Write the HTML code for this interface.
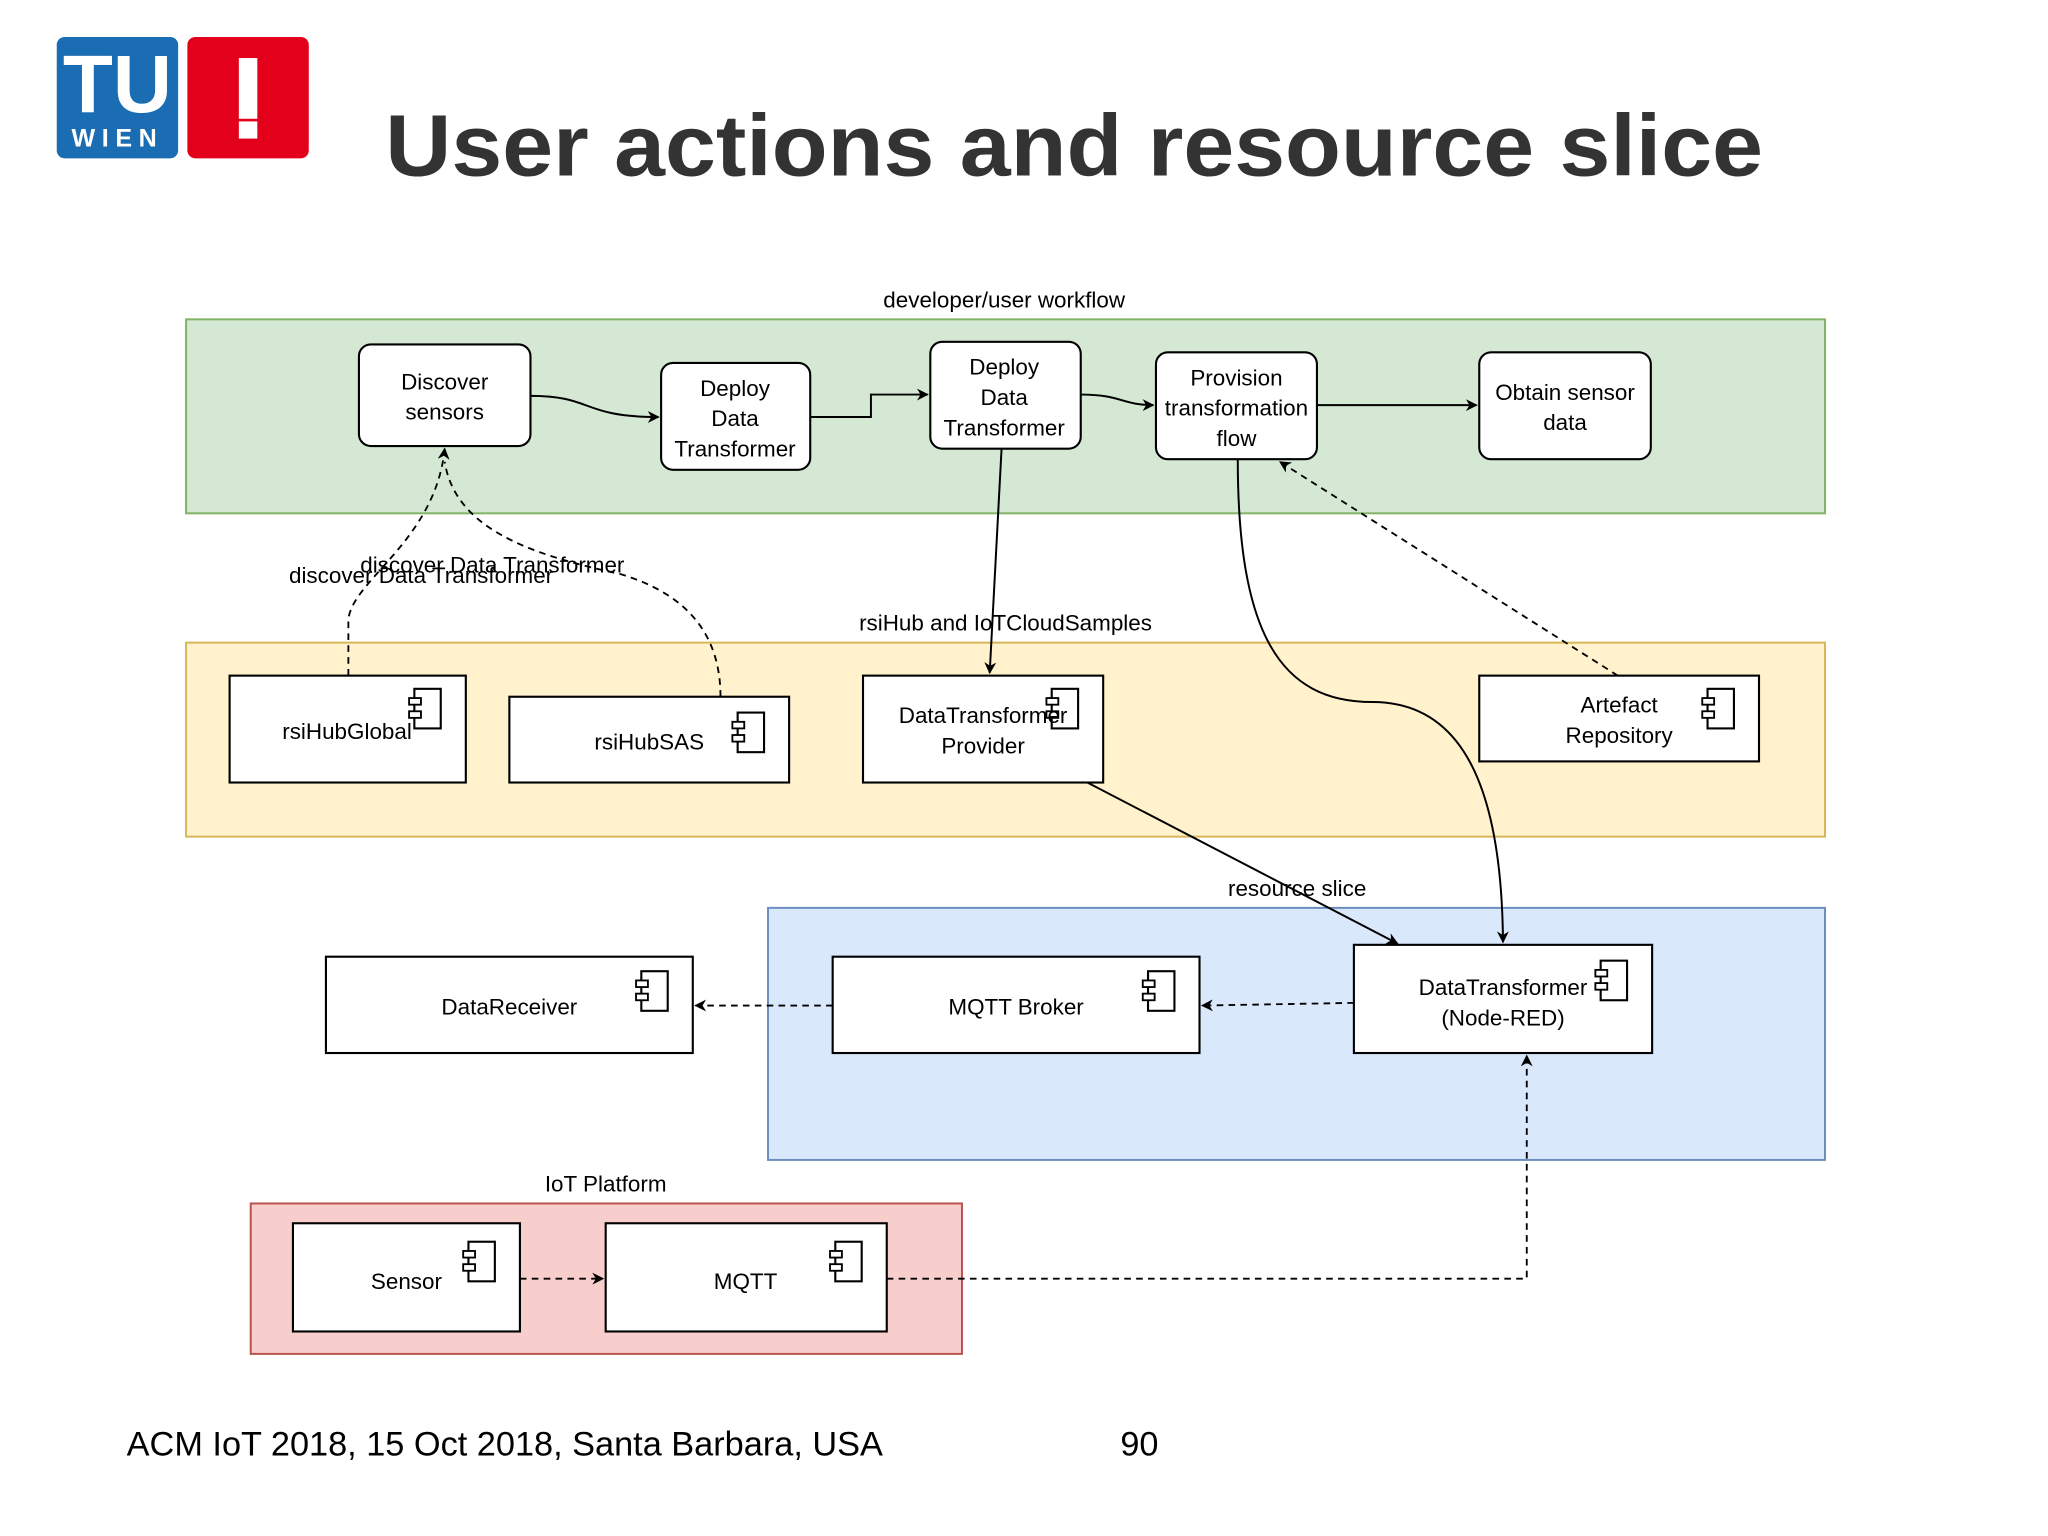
<!DOCTYPE html>
<html><head><meta charset="utf-8"><style>
html,body{margin:0;padding:0;background:#fff;}
svg{display:block;}
text{font-family:"Liberation Sans",Arial,sans-serif;}
</style></head><body>
<svg width="2048" height="1536" viewBox="0 0 1552 1164" preserveAspectRatio="none" xmlns="http://www.w3.org/2000/svg">
<defs>
<marker id="a" viewBox="0 0 10 10" refX="9" refY="5" markerWidth="9" markerHeight="9" orient="auto" markerUnits="userSpaceOnUse"><path d="M0,0 L10,5 L0,10 L3,5 z" fill="#000"/></marker>
<g id="ci"><rect x="4" y="0" width="20" height="30" fill="none" stroke="#000" stroke-width="1.6"/><rect x="0" y="7" width="9" height="5" fill="#fff" stroke="#000" stroke-width="1.4"/><rect x="0" y="17" width="9" height="5" fill="#fff" stroke="#000" stroke-width="1.4"/></g>
</defs>
<!-- logo -->
<rect x="43" y="28" width="92" height="92" rx="6" fill="#1a6db3"/>
<text x="89" y="85" font-size="62" font-weight="bold" fill="#fff" text-anchor="middle">TU</text>
<text x="89" y="111" font-size="19" font-weight="bold" fill="#fff" text-anchor="middle" letter-spacing="5">WIEN</text>
<rect x="142" y="28" width="92" height="92" rx="6" fill="#e3001b"/>
<rect x="181" y="44" width="14" height="46" fill="#fff"/>
<rect x="181" y="92" width="14" height="13" fill="#fff"/>
<text x="292" y="133" font-size="66" font-weight="bold" fill="#333" textLength="1044" lengthAdjust="spacingAndGlyphs">User actions and resource slice</text>

<!-- containers -->
<rect x="141" y="242" width="1242" height="147" fill="#d5e8d4" stroke="#82b366" stroke-width="1.5"/>
<text x="761" y="233" font-size="17" text-anchor="middle">developer/user workflow</text>
<rect x="141" y="487" width="1242" height="147" fill="#fff2cc" stroke="#d6b656" stroke-width="1.5"/>
<text x="762" y="478" font-size="17" text-anchor="middle">rsiHub and IoTCloudSamples</text>
<rect x="582" y="688" width="801" height="191" fill="#dae8fc" stroke="#6c8ebf" stroke-width="1.5"/>
<rect x="190" y="912" width="539" height="114" fill="#f8cecc" stroke="#b85450" stroke-width="1.5"/>
<text x="459" y="903" font-size="17" text-anchor="middle">IoT Platform</text>

<g fill="#fff" stroke="#000" stroke-width="1.6">
<rect x="272" y="261" width="130" height="77" rx="9"/>
<rect x="501" y="275" width="113" height="81" rx="9"/>
<rect x="705" y="259" width="114" height="81" rx="9"/>
<rect x="876" y="267" width="122" height="81" rx="9"/>
<rect x="1121" y="267" width="130" height="81" rx="9"/>
<rect x="174" y="512" width="179" height="81"/>
<rect x="386" y="528" width="212" height="65"/>
<rect x="654" y="512" width="182" height="81"/>
<rect x="1121" y="512" width="212" height="65"/>
<rect x="247" y="725" width="278" height="73"/>
<rect x="631" y="725" width="278" height="73"/>
<rect x="1026" y="716" width="226" height="82"/>
<rect x="222" y="927" width="172" height="82"/>
<rect x="459" y="927" width="213" height="82"/>
</g>
<use href="#ci" x="310" y="522"/>
<use href="#ci" x="555" y="540"/>
<use href="#ci" x="793" y="522"/>
<use href="#ci" x="1290" y="522"/>
<use href="#ci" x="482" y="736"/>
<use href="#ci" x="866" y="736"/>
<use href="#ci" x="1209" y="728"/>
<use href="#ci" x="351" y="941"/>
<use href="#ci" x="629" y="941"/>

<g font-size="17" text-anchor="middle">
<text x="337" y="295">Discover</text><text x="337" y="318">sensors</text>
<text x="557" y="300">Deploy</text><text x="557" y="323">Data</text><text x="557" y="346">Transformer</text>
<text x="761" y="284">Deploy</text><text x="761" y="307">Data</text><text x="761" y="330">Transformer</text>
<text x="937" y="292">Provision</text><text x="937" y="315">transformation</text><text x="937" y="338">flow</text>
<text x="1186" y="303">Obtain sensor</text><text x="1186" y="326">data</text>
<text x="263" y="560">rsiHubGlobal</text>
<text x="492" y="568">rsiHubSAS</text>
<text x="745" y="548">DataTransformer</text><text x="745" y="571">Provider</text>
<text x="1227" y="540">Artefact</text><text x="1227" y="563">Repository</text>
<text x="386" y="769">DataReceiver</text>
<text x="770" y="769">MQTT Broker</text>
<text x="1139" y="754">DataTransformer</text><text x="1139" y="777">(Node-RED)</text>
<text x="308" y="977">Sensor</text>
<text x="565" y="977">MQTT</text>
</g>

<!-- edges -->
<g fill="none" stroke="#000" stroke-width="1.5">
<path d="M402,300 C450,300 440,316 499,316" marker-end="url(#a)"/>
<path d="M614,316 L660,316 L660,299 L703,299" marker-end="url(#a)"/>
<path d="M819,299 C850,299 850,307 874,307" marker-end="url(#a)"/>
<path d="M998,307 L1119,307" marker-end="url(#a)"/>
<path d="M759,340 L750,510" marker-end="url(#a)"/>
<path d="M938,348 C938,480 970,532 1040,532 C1110,532 1138,600 1139,714" marker-end="url(#a)"/>
<path d="M824,593 L1059,715" marker-end="url(#a)"/>
</g>
<g fill="none" stroke="#000" stroke-width="1.4" stroke-dasharray="5,4">
<path d="M264,512 L264,470 C266,440 330,410 337,340" marker-end="url(#a)"/>
<path d="M546,528 C546,480 520,450 470,435 C400,420 345,400 337,350"/>
<path d="M1226,512 L970,350" marker-end="url(#a)"/>
<path d="M1026,760 L911,762" marker-end="url(#a)"/>
<path d="M631,762 L527,762" marker-end="url(#a)"/>
<path d="M394,969 L457,969" marker-end="url(#a)"/>
<path d="M672,969 L1157,969 L1157,800" marker-end="url(#a)"/>
</g>
<g font-size="17">
<text x="219" y="442">discover Data Transformer</text>
<text x="273" y="434">discover Data Transformer</text>
<text x="983" y="679" text-anchor="middle">resource slice</text>
</g>
<text x="96" y="1103" font-size="26">ACM IoT 2018, 15 Oct 2018, Santa Barbara, USA</text>
<text x="849" y="1103" font-size="26">90</text>
</svg>
</body></html>
